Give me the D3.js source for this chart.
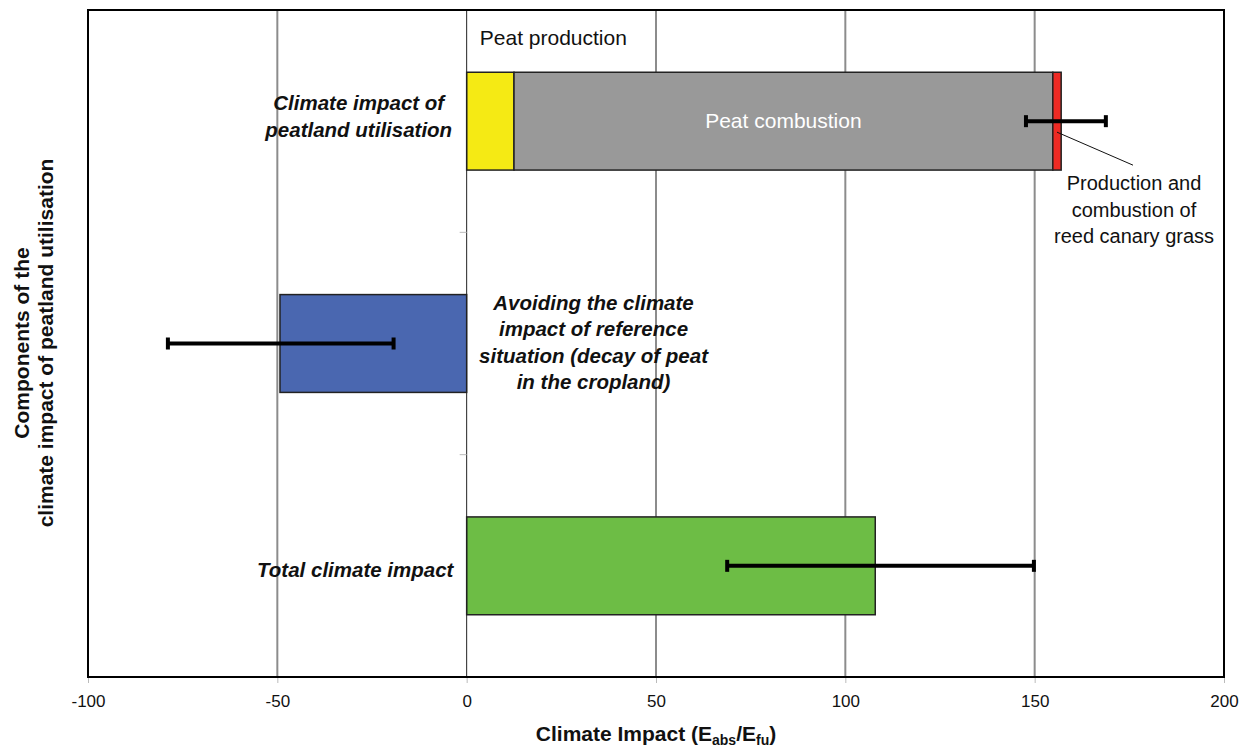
<!DOCTYPE html>
<html>
<head>
<meta charset="utf-8">
<script src="https://cdn.jsdelivr.net/npm/d3@7"></script>
<style>
  body { margin: 0; background: #fff; }
  text { font-family: "Liberation Sans", Arial, sans-serif; }
</style>
</head>
<body>
<div class="article"></div>
<script>
// categories (top to bottom)
var categories = ["peatland", "reference", "total"];
var categoryLabels = [
    ["Climate impact of", "peatland utilisation"],
    ["Avoiding the climate", "impact of reference", "situation (decay of peat", "in the cropland)"],
    ["Total climate impact"]
];
// stacked parts of the top bar
var segNames = ["Peat production", "Peat combustion", "Production and combustion of reed canary grass"];
var segValues = [12.5, 142.3, 2.2];
var segColors = ["#f5ea14", "#999999", "#ee2a24"];
// single bars
var refValue = -49.3;
var totalValue = 107.9;
// error bars [category, low, high]
var errCats = ["peatland", "reference", "total"];
var errLow = [147.7, -78.9, 68.8];
var errHigh = [168.8, -19.3, 149.8];
var xTicks = [-100, -50, 0, 50, 100, 150, 200];

buildChart();

function buildChart() {
    var svgWidth = 1250, svgHeight = 749;
    var margin = { top: 10, right: 26, bottom: 72, left: 88 };
    var chartWidth = svgWidth - margin.left - margin.right;
    var chartHeight = svgHeight - margin.top - margin.bottom;

    var svg = d3.select(".article").append("svg")
        .attr("width", svgWidth)
        .attr("height", svgHeight);

    var chartGroup = svg.append("g")
        .attr("transform", `translate(${margin.left}, ${margin.top})`);

    var xScale = d3.scaleLinear().domain([-100, 200]).range([0, chartWidth]);
    var yScale = d3.scaleBand().domain(categories).range([0, chartHeight]).padding(0);
    var barH = yScale.bandwidth() * 0.44;
    var barY = c => yScale(c) + (yScale.bandwidth() - barH) / 2;
    var midY = c => yScale(c) + yScale.bandwidth() / 2;

    // gridlines
    chartGroup.append("g")
        .selectAll("line")
        .data(xTicks.filter(t => t !== 0 && t !== -100 && t !== 200))
        .enter()
        .append("line")
        .attr("x1", d => xScale(d)).attr("x2", d => xScale(d))
        .attr("y1", 0).attr("y2", chartHeight)
        .attr("stroke", "#8c8c8c")
        .attr("stroke-width", 2);

    // x axis
    var xAxis = d3.axisBottom(xScale).tickValues(xTicks)
        .tickFormat(d => d.toString()).tickSize(6).tickPadding(12);
    var xg = chartGroup.append("g")
        .attr("transform", `translate(0, ${chartHeight})`)
        .call(xAxis);
    xg.select(".domain").remove();
    xg.selectAll(".tick line").attr("stroke", "#bbb");
    xg.selectAll(".tick text")
        .attr("font-size", 17)
        .attr("font-family", "Liberation Sans, Arial, sans-serif")
        .attr("fill", "#111");

    // bars: top stacked
    var starts = [];
    var acc = 0;
    segValues.forEach(v => { starts.push(acc); acc += v; });
    chartGroup.append("g")
        .selectAll("rect")
        .data(segValues)
        .enter()
        .append("rect")
        .attr("x", (d, i) => xScale(starts[i]))
        .attr("y", barY("peatland"))
        .attr("width", (d, i) => xScale(starts[i] + d) - xScale(starts[i]))
        .attr("height", barH)
        .attr("fill", (d, i) => segColors[i])
        .attr("stroke", "#222")
        .attr("stroke-width", 1.5);

    chartGroup.append("rect")
        .attr("x", xScale(refValue))
        .attr("y", barY("reference"))
        .attr("width", xScale(0) - xScale(refValue))
        .attr("height", barH)
        .attr("fill", "#4a67b0")
        .attr("stroke", "#222")
        .attr("stroke-width", 1.5);

    chartGroup.append("rect")
        .attr("x", xScale(0))
        .attr("y", barY("total"))
        .attr("width", xScale(totalValue) - xScale(0))
        .attr("height", barH)
        .attr("fill", "#6dbd45")
        .attr("stroke", "#222")
        .attr("stroke-width", 1.5);

    // zero axis line with small ticks
    chartGroup.append("line")
        .attr("x1", xScale(0)).attr("x2", xScale(0))
        .attr("y1", 0).attr("y2", chartHeight)
        .attr("stroke", "#222").attr("stroke-width", 1);
    chartGroup.append("g")
        .selectAll("line")
        .data(categories.slice(1))
        .enter()
        .append("line")
        .attr("x1", xScale(0) - 7).attr("x2", xScale(0))
        .attr("y1", d => yScale(d)).attr("y2", d => yScale(d))
        .attr("stroke", "#bbb");

    // error bars
    var eb = chartGroup.append("g")
        .selectAll("g")
        .data(errCats)
        .enter()
        .append("g");
    eb.append("line")
        .attr("x1", (d, i) => xScale(errLow[i])).attr("x2", (d, i) => xScale(errHigh[i]))
        .attr("y1", d => midY(d)).attr("y2", d => midY(d))
        .attr("stroke", "#000").attr("stroke-width", 4);
    [errLow, errHigh].forEach(arr => {
        eb.append("line")
            .attr("x1", (d, i) => xScale(arr[i])).attr("x2", (d, i) => xScale(arr[i]))
            .attr("y1", d => midY(d) - 6).attr("y2", d => midY(d) + 6)
            .attr("stroke", "#000").attr("stroke-width", 4);
    });

    // plot border
    chartGroup.append("rect")
        .attr("x", 0).attr("y", 0)
        .attr("width", chartWidth).attr("height", chartHeight)
        .attr("fill", "none")
        .attr("stroke", "#000")
        .attr("stroke-width", 2);

    // category labels
    var labelPos = [[xScale(-28.5), midY("peatland") - 11, "middle"],
                    [xScale(33.5), midY("reference") - 34, "middle"],
                    [xScale(-3.5), midY("total") + 11, "end"]];
    categoryLabels.forEach((lines, i) => {
        var t = chartGroup.append("text")
            .attr("x", labelPos[i][0])
            .attr("y", labelPos[i][1])
            .attr("text-anchor", labelPos[i][2])
            .attr("font-size", 20.5)
            .attr("font-weight", "bold")
            .attr("font-style", "italic")
            .attr("fill", "#111");
        lines.forEach((l, j) => {
            t.append("tspan").attr("x", labelPos[i][0]).attr("dy", j ? 26.5 : 0).text(l);
        });
    });

    // segment labels
    chartGroup.append("text")
        .attr("x", xScale(starts[0] + segValues[0] / 2) + 63)
        .attr("y", barY("peatland") - 27)
        .attr("text-anchor", "middle")
        .attr("font-size", 21)
        .attr("fill", "#111")
        .text(segNames[0]);

    chartGroup.append("text")
        .attr("x", xScale(starts[1] + segValues[1] / 2))
        .attr("y", midY("peatland") + 7)
        .attr("text-anchor", "middle")
        .attr("font-size", 21)
        .attr("fill", "#fff")
        .text(segNames[1]);

    var reedX = xScale(starts[2] + segValues[2] / 2);
    chartGroup.append("line")
        .attr("x1", reedX).attr("y1", midY("peatland") + 11)
        .attr("x2", reedX + 76).attr("y2", midY("peatland") + 44)
        .attr("stroke", "#111").attr("stroke-width", 1);
    var reedLines = ["Production and", "combustion of", "reed canary grass"];
    var rt = chartGroup.append("text")
        .attr("x", reedX + 77)
        .attr("y", midY("peatland") + 69)
        .attr("text-anchor", "middle")
        .attr("font-size", 20)
        .attr("fill", "#111");
    reedLines.forEach((l, j) => {
        rt.append("tspan").attr("x", reedX + 77).attr("dy", j ? 26.5 : 0).text(l);
    });

    // x axis title
    var xt = svg.append("text")
        .attr("x", margin.left + xScale(50))
        .attr("y", 741)
        .attr("text-anchor", "middle")
        .attr("font-size", 21)
        .attr("font-weight", "bold")
        .attr("fill", "#111");
    xt.append("tspan").text("Climate Impact (E");
    xt.append("tspan").attr("font-size", 14).attr("dy", 4).text("abs");
    xt.append("tspan").attr("dy", -4).text("/E");
    xt.append("tspan").attr("font-size", 14).attr("dy", 4).text("fu");
    xt.append("tspan").attr("dy", -4).text(")");

    // y axis title
    var yt = svg.append("text")
        .attr("transform", `translate(29, 343) rotate(-90)`)
        .attr("text-anchor", "middle")
        .attr("font-size", 21)
        .attr("font-weight", "bold")
        .attr("fill", "#111");
    yt.append("tspan").attr("x", 0).attr("dy", 0).text("Components of the");
    yt.append("tspan").attr("x", 0).attr("dy", 23.5).text("climate impact of peatland utilisation");
}
</script>
</body>
</html>
